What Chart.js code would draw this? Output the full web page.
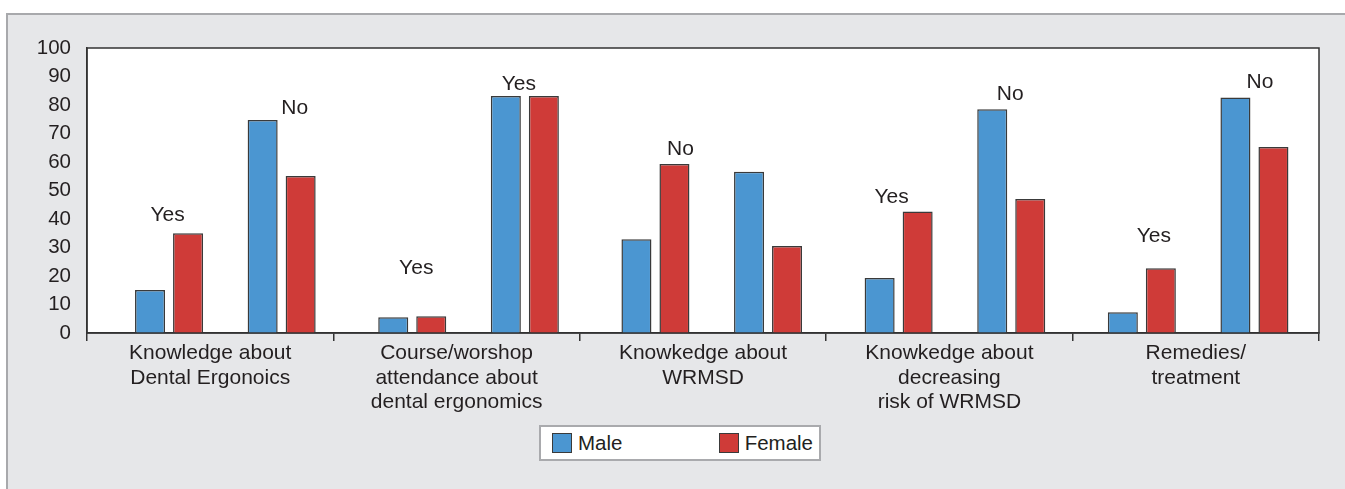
<!DOCTYPE html>
<html>
<head>
<meta charset="utf-8">
<title>Dental ergonomics awareness by sex</title>
<script src="https://cdn.jsdelivr.net/npm/chart.js@4.4.1/dist/chart.umd.min.js"></script>
<style>
  html, body { margin: 0; padding: 0; background: #ffffff; }
  body {
    width: 1345px; height: 489px; position: relative; overflow: hidden;
    font-family: "Liberation Sans", Arial, Helvetica, sans-serif;
  }
  #panel {
    position: absolute; left: 6px; top: 13px; right: 0; bottom: 0;
    background: #e6e7e9;
    border-top: 2px solid #a8a9ac; border-left: 2px solid #a8a9ac;
  }
  #wrap { position: absolute; left: 0; top: 0; width: 1345px; height: 489px; }
  #legend {
    position: absolute; left: 539px; top: 425px; width: 282px; height: 36px;
    box-sizing: border-box; background: #ffffff; border: 2px solid #a9aaad;
    display: flex; align-items: center; justify-content: space-between;
    padding: 0 6px 0 11px;
  }
  .item { display: flex; align-items: center; }
  .swatch { width: 20px; height: 20px; box-sizing: border-box; border: 1.5px solid #3a3a3a; margin-right: 6px; }
  .label { font-size: 20.5px; color: #231f20; line-height: 1; }
</style>
</head>
<body>
<div id="panel"></div>
<div id="wrap"><canvas id="chart" width="1345" height="489"></canvas></div>
<div id="legend"></div>
<script>
// Survey topics (one cluster each) and the two answers shown per topic
const groupLabels = [
  ['Knowledge about', 'Dental Ergonoics'],
  ['Course/worshop', 'attendance about', 'dental ergonomics'],
  ['Knowkedge about', 'WRMSD'],
  ['Knowkedge about', 'decreasing', 'risk of WRMSD'],
  ['Remedies/', 'treatment']
];
const answers = ['Yes', 'No'];

// Percent of respondents, ordered topic by topic: [Yes, No] for each topic
const maleValues   = [15.1, 74.7, 5.5, 83.2, 32.9, 56.6, 19.3, 78.5, 7.3, 82.6];
const femaleValues = [35.0, 55.1, 5.9, 83.2, 59.3, 30.5, 42.6, 47.0, 22.7, 65.3];

// Answer captions written above some of the Male/Female pairs: [bar pair index, text]
const pairCaptions = [
  [0, 'Yes'], [1, 'No'],
  [2, 'Yes'], [3, 'Yes'],
  [4, 'No'],
  [6, 'Yes'], [7, 'No'],
  [8, 'Yes'], [9, 'No']
];

// Value-axis ticks
const yTickMin = 0, yTickMax = 100, yTickStep = 10;

// ---- layout of the bar pairs along the hidden linear x scale (1 unit = one topic) ----
const PAIR_START = 0.333, GROUP_STEP = 0.987, PAIR_STEP = 0.457;
function pairPos(i) {
  const g = Math.floor(i / answers.length), k = i % answers.length;
  return PAIR_START + g * GROUP_STEP + k * PAIR_STEP;
}

const FONT = '"Liberation Sans", Arial, Helvetica, sans-serif';
const INK = '#231f20';
const FRAME = '#333333';

// white plotting area with a full frame
const plotFrame = {
  id: 'plotFrame',
  beforeDraw(chart) {
    const { ctx, chartArea: a } = chart;
    ctx.save();
    ctx.fillStyle = '#ffffff';
    ctx.fillRect(a.left, a.top, a.right - a.left, a.bottom - a.top);
    ctx.restore();
  },
  afterDraw(chart) {
    const { ctx, chartArea: a } = chart;
    ctx.save();
    ctx.strokeStyle = FRAME;
    ctx.lineWidth = 1.5;
    ctx.strokeRect(a.left, a.top, a.right - a.left, a.bottom - a.top);
    ctx.restore();
  }
};

// "Yes"/"No" captions placed over the taller bar of each pair
const pairNotes = {
  id: 'pairNotes',
  afterDatasetsDraw(chart, args, opts) {
    const { ctx } = chart;
    const xs = chart.scales.x, ys = chart.scales.y;
    const m = chart.data.datasets[0].data, f = chart.data.datasets[1].data;
    ctx.save();
    ctx.font = opts.size + 'px ' + FONT;
    ctx.fillStyle = INK;
    ctx.textAlign = 'center';
    ctx.textBaseline = 'alphabetic';
    pairCaptions.forEach(([i, text], n) => {
      const top = Math.max(m[i].y, f[i].y);
      const x = xs.getPixelForValue(pairPos(i)) + opts.dx[n];
      const y = ys.getPixelForValue(top) - opts.lift[n];
      ctx.fillText(text, x, y);
    });
    ctx.restore();
  }
};

// legend box built from the chart's own legend items
const htmlLegend = {
  id: 'htmlLegend',
  afterUpdate(chart) {
    const box = document.getElementById('legend');
    box.innerHTML = '';
    const items = chart.options.plugins.legend.labels.generateLabels(chart);
    items.forEach(it => {
      const el = document.createElement('div');
      el.className = 'item';
      const sw = document.createElement('span');
      sw.className = 'swatch';
      sw.style.background = it.fillStyle;
      const tx = document.createElement('span');
      tx.className = 'label';
      tx.textContent = it.text;
      el.appendChild(sw);
      el.appendChild(tx);
      box.appendChild(el);
    });
  }
};

new Chart(document.getElementById('chart'), {
  type: 'bar',
  data: {
    datasets: [
      {
        label: 'Male',
        data: maleValues.map((v, i) => ({ x: pairPos(i), y: v })),
        backgroundColor: '#4b96d1',
        borderColor: '#3a3a3a',
        borderWidth: 1.5,
        borderSkipped: 'start'
      },
      {
        label: 'Female',
        data: femaleValues.map((v, i) => ({ x: pairPos(i), y: v })),
        backgroundColor: '#cf3b38',
        borderColor: '#3a3a3a',
        borderWidth: 1.5,
        borderSkipped: 'start'
      }
    ]
  },
  options: {
    responsive: false,
    animation: false,
    devicePixelRatio: 1,
    categoryPercentage: 0.675,
    barPercentage: 0.79,
    layout: { padding: { left: 0, top: 48, right: 26, bottom: 0 } },
    scales: {
      x: {
        type: 'linear',
        display: false,
        min: 0,
        max: groupLabels.length,
        afterBuildTicks(scale) { scale.ticks = []; }
      },
      groups: {
        type: 'category',
        position: 'bottom',
        labels: groupLabels,
        offset: true,
        afterFit(scale) { scale.height = 156; },
        grid: {
          offset: true,
          drawOnChartArea: false,
          drawTicks: true,
          tickLength: 8,
          color: FRAME,
          lineWidth: 1.5
        },
        border: { display: true, color: FRAME, width: 1.5 },
        ticks: {
          autoSkip: false,
          maxRotation: 0,
          padding: 0,
          color: INK,
          font: { family: FONT, size: 21, lineHeight: '24.5px' }
        }
      },
      y: {
        type: 'linear',
        min: yTickMin,
        max: yTickMax,
        afterFit(scale) { scale.width = 87; },
        grid: { display: false, drawTicks: false },
        border: { display: true, color: FRAME, width: 1.5 },
        ticks: {
          stepSize: yTickStep,
          padding: 16,
          color: INK,
          font: { family: FONT, size: 20.5 }
        }
      }
    },
    plugins: {
      legend: { display: false },
      tooltip: { enabled: false },
      pairNotes: {
        size: 21,
        dx:   [-1.5, 13, 4, -6, 25, -7, -1, 12, 5.5],
        lift: [12.7, 6, 42.3, 5.4, 9.4, 8.4, 9.4, 26, 9.7]
      }
    }
  },
  plugins: [plotFrame, pairNotes, htmlLegend]
});
</script>
</body>
</html>
